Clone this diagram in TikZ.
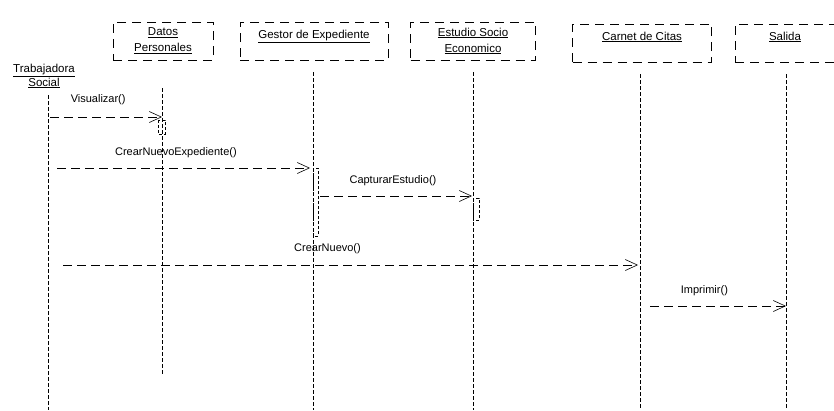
\documentclass[tikz,border=0pt]{standalone}
\usepackage{fontspec}
\setmainfont{Liberation Sans}
\usetikzlibrary{arrows.meta}
\begin{document}
\begin{tikzpicture}[x=1pt,y=-1pt,
  obj/.style={draw, dash pattern=on 9pt off 6pt, line width=0.5pt, minimum height=38pt, inner sep=2pt, align=center, font=\fontsize{11.5}{16}\selectfont},
  plain/.style={align=center, inner sep=1pt, font=\fontsize{11.5}{14}\selectfont},
  life/.style={dash pattern=on 4pt off 2pt, line width=0.5pt},
  act/.style={draw, dash pattern=on 3pt off 2pt, line width=0.4pt},
  msg/.style={dash pattern=on 9pt off 5pt, line width=0.5pt, -{Straight Barb[length=12pt,width=11pt,line width=0.6pt]}},
  lbl/.style={font=\fontsize{11}{13}\selectfont, inner sep=1pt}]
\useasboundingbox (0,0) rectangle (834,410);

% object headers
\node[plain] (ts) at (44,76) {\underline{Trabajadora}\\\underline{Social}};
\node[obj, minimum width=100pt] (dp) at (163,41) {\underline{Datos}\\\underline{Personales}};
\node[obj, minimum width=148pt] (ge) at (314,41) {\underline{Gestor de Expediente}\\[-2pt]\phantom{X}};
\node[obj, minimum width=125pt] (es) at (473,41) {\underline{Estudio Socio}\\\underline{Economico}};
\node[obj, minimum width=139pt] (cc) at (642,43) {\underline{Carnet de Citas}\\[-2pt]\phantom{X}};
\node[obj, minimum width=100pt] (sa) at (785,43) {\underline{Salida}\\[-2pt]\phantom{X}};

% lifeline ends
\coordinate (tsE) at (48,410);
\coordinate (dpE) at (162,375);
\coordinate (geE) at (313,410);
\coordinate (esE) at (473,410);
\coordinate (ccE) at (640,410);
\coordinate (saE) at (786,410);

\draw[life] (ts.south) ++(4,6) -- (tsE);
\draw[life] (dp.south) ++(-1,28) -- (dpE);
\draw[life] (ge.south) ++(-1,12) -- (geE);
\draw[life] (es.south) ++(0,12) -- (esE);
\draw[life] (cc.south) ++(-2,12) -- (ccE);
\draw[life] (sa.south) ++(1,12) -- (saE);

% activation bars
\draw[act] (158,120) rectangle (165,134);
\draw[act] (313,168) rectangle (318,236);
\draw[act] (473,198) rectangle (479,220);

% message anchor points
\coordinate (m1a) at (50,117);   \coordinate (m1b) at (162,117);
\coordinate (m2a) at (57,168);   \coordinate (m2b) at (310,168);
\coordinate (m3a) at (320,196);  \coordinate (m3b) at (472,196);
\coordinate (m4a) at (63,265);   \coordinate (m4b) at (638,265);
\coordinate (m5a) at (650,306);  \coordinate (m5b) at (786,306);

% messages
\draw[msg] (m1a) -- node[lbl, above=11pt, pos=0.43] (l1) {Visualizar()} (m1b);
\draw[msg] (m2a) -- node[lbl, above=9pt, pos=0.47] (l2) {CrearNuevoExpediente()} (m2b);
\draw[msg] (m3a) -- node[lbl, above=9pt, pos=0.48] (l3) {CapturarEstudio()} (m3b);
\draw[msg] (m4a) -- node[lbl, above=10pt, pos=0.46] (l4) {CrearNuevo()} (m4b);
\draw[msg] (m5a) -- node[lbl, above=9pt, pos=0.4] (l5) {Imprimir()} (m5b);
\end{tikzpicture}
\end{document}
